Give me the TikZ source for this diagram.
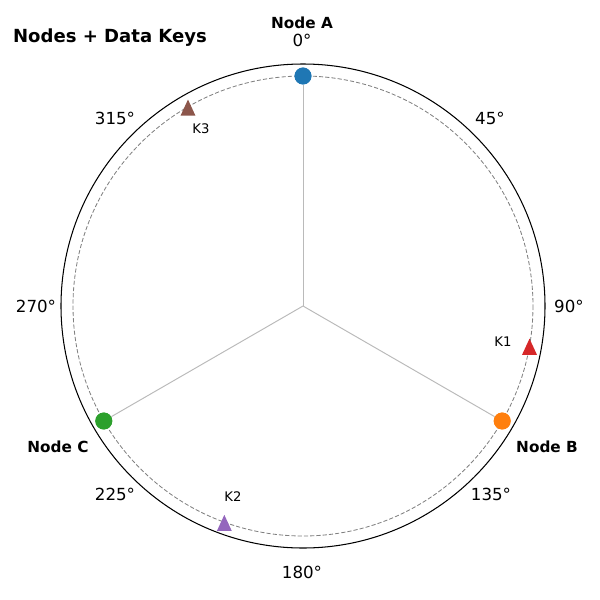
\documentclass[tikz,border=0pt]{standalone}
\usepackage{fontspec}
\setmainfont{DejaVu Sans}
\usetikzlibrary{shapes.geometric}

\definecolor{tabblue}{HTML}{1F77B4}
\definecolor{taborange}{HTML}{FF7F0E}
\definecolor{tabgreen}{HTML}{2CA02C}
\definecolor{tabred}{HTML}{D62728}
\definecolor{tabpurple}{HTML}{9467BD}
\definecolor{tabbrown}{HTML}{8C564B}

\begin{document}
\begin{tikzpicture}[
  x=0.72pt, y=-0.72pt,
  every node/.style={inner sep=0pt},
  hashnode/.style={circle, minimum size=12.2pt},
  keynode/.style={regular polygon, regular polygon sides=3, minimum size=12.4pt, yscale=1.25, yshift=-2pt},
  ticklabel/.style={font=\fontsize{12}{14}\selectfont},
  namelabel/.style={font=\fontsize{11}{13}\selectfont\bfseries},
  keylabel/.style={font=\fontsize{9.5}{11}\selectfont},
  ]
  \useasboundingbox (0,0) rectangle (600,600);
  \node[font=\fontsize{13}{15}\selectfont\bfseries] (title) at (110,38) {Nodes + Data Keys};

  \begin{scope}[shift={(303,306)}]
    \coordinate (O) at (0,0);
    \draw[line width=0.75pt] (O) circle (242);
    \draw[gray, line width=0.6pt, dash pattern=on 3pt off 1.5pt] (O) circle (230);

    % hash ring nodes
    \node[hashnode, fill=tabblue] (A) at (-90:230) {};
    \node[hashnode, fill=taborange] (B) at (30:230) {};
    \node[hashnode, fill=tabgreen] (C) at (150:230) {};
    \draw[black!27, line width=0.7pt] (O) -- (A);
    \draw[black!27, line width=0.7pt] (O) -- (B);
    \draw[black!27, line width=0.7pt] (O) -- (C);
    \node[hashnode, fill=tabblue] at (A) {};
    \node[hashnode, fill=taborange] at (B) {};
    \node[hashnode, fill=tabgreen] at (C) {};

    % data keys
    \node[keynode, fill=tabred] (K1) at (10:230) {};
    \node[keynode, fill=tabpurple] (K2) at (110:230) {};
    \node[keynode, fill=tabbrown] (K3) at (240:230) {};
  \end{scope}

  \node[keylabel] (K1l) at (503,342) {K1};
  \node[keylabel] (K2l) at (233,497) {K2};
  \node[keylabel] (K3l) at (201,129) {K3};

  \node[namelabel] (Al) at (302,23) {Node A};
  \node[namelabel] (Bl) at (547,447) {Node B};
  \node[namelabel] (Cl) at (58,447) {Node C};

  \node[ticklabel] (t0) at (302,40) {0°};
  \node[ticklabel] (t45) at (490,118) {45°};
  \node[ticklabel] (t90) at (569,306) {90°};
  \node[ticklabel] (t135) at (491,494) {135°};
  \node[ticklabel] (t180) at (302,572) {180°};
  \node[ticklabel] (t225) at (115,494) {225°};
  \node[ticklabel] (t270) at (36,306) {270°};
  \node[ticklabel] (t315) at (115,118) {315°};
\end{tikzpicture}
\end{document}
